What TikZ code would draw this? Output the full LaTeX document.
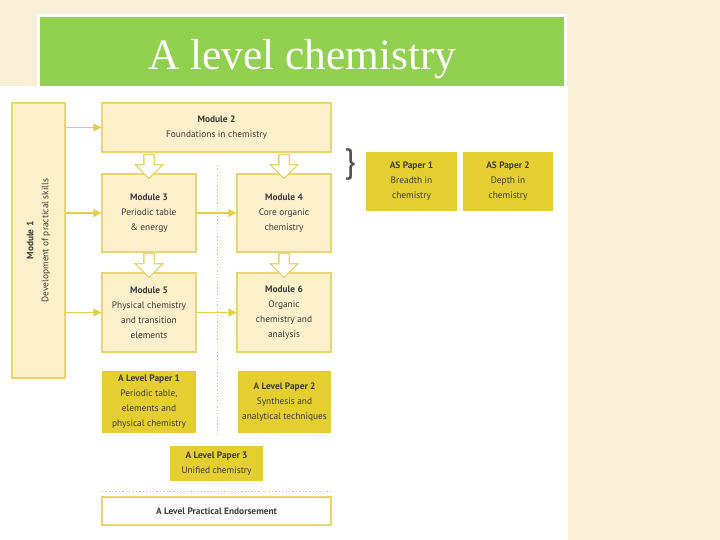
\documentclass[tikz,border=0pt]{standalone}
\usepackage{fontspec}
\setmainfont{Liberation Serif}
\setsansfont{PT Sans}
\usetikzlibrary{arrows.meta,positioning,calc,shapes.arrows}
\definecolor{parch}{RGB}{249,238,216}
\definecolor{titlegreen}{RGB}{146,208,80}
\definecolor{modfill}{RGB}{251,240,201}
\definecolor{modline}{RGB}{233,214,110}
\definecolor{feedline}{RGB}{229,206,72}
\definecolor{paperfill}{RGB}{228,206,48}
\definecolor{ink}{RGB}{60,60,60}

\begin{document}
\begin{tikzpicture}[
  x=1bp, y=-1bp,
  every node/.style={font=\sffamily\fontsize{9.4}{15}\selectfont, text=ink},
  module/.style={draw=modline, line width=1.3bp, fill=modfill, align=center,
                 inner sep=0pt},
  paper/.style={fill=paperfill, align=center, inner sep=0pt},
  blockarrow/.style={single arrow, draw=modline, line width=1.3bp, fill=white,
                     shape border rotate=270, inner sep=4.5bp, anchor=tip,
                     single arrow head extend=8.5bp, minimum height=24bp},
  feed/.style={-{Triangle[length=8bp,width=8bp]}, feedline, line width=1.6bp},
  guide/.style={feedline, line width=1bp, dash pattern=on 1.2bp off 2.2bp}
]

% page
\fill[parch] (0,0) rectangle (720,540);
\fill[white] (0,86) rectangle (568,540);
\fill[white] (37,14) rectangle (567,88);
\node[fill=titlegreen, minimum width=524bp, minimum height=69bp, inner sep=0pt]
  (title) at (302,51.5) {};
\node[anchor=base, font=\rmfamily\fontsize{43.5}{43.5}\selectfont, text=white]
  (titletext) at (302.5,70) {A level chemistry};

% modules
\node[module, minimum width=275bp, minimum height=53bp, rotate=90]
  (m1) at (38.5,240.5) {\textbf{Module 1}\\Development of practical skills};
\node[module, minimum width=229bp, minimum height=49bp]
  (m2) at (216.5,127.5) {\textbf{Module 2}\\Foundations in chemistry};
\node[module, minimum width=94bp, minimum height=78bp]
  (m3) at (149,213) {\textbf{Module 3}\\Periodic table\\\& energy};
\node[module, minimum width=94bp, minimum height=78bp]
  (m4) at (284,213) {\textbf{Module 4}\\Core organic\\chemistry};
\node[module, minimum width=94bp, minimum height=79bp]
  (m5) at (149,312.5) {\textbf{Module 5}\\Physical chemistry\\and transition\\elements};
\node[module, minimum width=94bp, minimum height=79bp]
  (m6) at (284,312.5) {\textbf{Module 6}\\Organic\\chemistry and\\analysis};

% papers
\node[paper, minimum width=94bp, minimum height=62bp]
  (p1) at (149,402) {\textbf{A Level Paper 1}\\Periodic table,\\elements and\\physical chemistry};
\node[paper, minimum width=93bp, minimum height=62bp]
  (p2) at (284.5,402) {\textbf{A Level Paper 2}\\Synthesis and\\analytical techniques};
\node[paper, minimum width=93bp, minimum height=35bp]
  (p3) at (216.5,463.5) {\textbf{A Level Paper 3}\\Unified chemistry};
\node[module, fill=white, minimum width=229bp, minimum height=28bp]
  (pe) at (216.5,511) {\textbf{A Level Practical Endorsement}};

\node[paper, minimum width=91bp, minimum height=59bp]
  (as1) at (411.5,181.5) {\textbf{AS Paper 1}\\Breadth in\\chemistry};
\node[paper, minimum width=90bp, minimum height=59bp]
  (as2) at (508,181.5) {\textbf{AS Paper 2}\\Depth in\\chemistry};
\node[font=\sffamily\fontsize{34}{34}\selectfont, text=ink!90]
  (brace) at (350,165) {\}};

% dotted guides
\draw[guide] (217,165) -- (217,436);
\draw[guide] (102,491) -- (331,491);

% feeds from module 1
\draw[feed] (m1.south |- m2.west) -- (m2.west);
\draw[feed] (m1.south |- m3.west) -- (m3.west);
\draw[feed] (m1.south |- m5.west) -- (m5.west);
\draw[feed] (m3.east) -- (m4.west);
\draw[feed] (m5.east) -- (m6.west);

% block arrows
\node[blockarrow] (a23) at ($(m3.north)+(0,6)$) {};
\node[blockarrow] (a24) at ($(m4.north)+(0,6)$) {};
\node[blockarrow] (a35) at ($(m5.north)+(0,6)$) {};
\node[blockarrow] (a46) at ($(m6.north)+(0,6)$) {};

\end{tikzpicture}
\end{document}
